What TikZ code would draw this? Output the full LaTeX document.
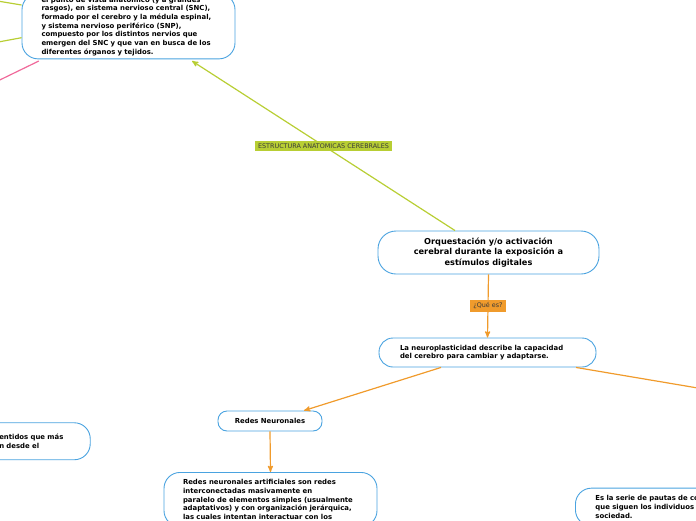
\documentclass[tikz,border=0pt]{standalone}
\usepackage{fontspec}
\setmainfont{DejaVu Sans}
\usetikzlibrary{arrows}

\definecolor{mapblue}{HTML}{4AA3E0}
\definecolor{maplime}{HTML}{B8CE34}
\definecolor{maporange}{HTML}{F09B2C}
\definecolor{mappink}{HTML}{F0699A}
\definecolor{maptext}{HTML}{3A3A3A}

\begin{document}
\begin{tikzpicture}[x=1pt,y=-1pt,>=stealth',line width=1.2pt,
  topic node/.style={draw=mapblue,line width=0.9pt,fill=white,rounded corners=18pt,
    align=center,font=\bfseries\fontsize{8.2}{10.8}\selectfont},
  idea node/.style={draw=mapblue,line width=0.9pt,fill=white,rounded corners=16pt,
    align=left,inner xsep=20pt,font=\bfseries\fontsize{6.9}{8.7}\selectfont},
  tag node/.style={fill=#1,text=maptext,inner xsep=3.5pt,inner ysep=2.5pt,
    font=\fontsize{6.4}{7}\selectfont}]

  \path[use as bounding box] (0,0) rectangle (696,520);
  \clip (0,0) rectangle (696,520);

  \node[topic node,minimum width=221pt,minimum height=43pt] (main) at (488.5,252.5)
    {Orquestación y/o activación\\cerebral durante la exposición a\\estímulos digitales};
  \node[idea node,text width=175pt,inner xsep=21pt,minimum height=29pt,rounded corners=14pt] (neuro) at (487.5,352.5)
    {La neuroplasticidad describe la capacidad\\del cerebro para cambiar y adaptarse.};
  \node[idea node,align=center,inner xsep=14pt,minimum width=104pt,minimum height=20pt,rounded corners=9pt] (redes) at (270,421)
    {Redes Neuronales};
  \node[idea node,text width=175pt,inner xsep=19pt,inner ysep=7pt,anchor=north] (artif) at (270.5,472)
    {Redes neuronales artificiales son redes\\interconectadas masivamente en\\paralelo de elementos simples (usualmente\\adaptativos) y con organización jerárquica,\\las cuales intentan interactuar con los};
  \node[idea node,text width=174pt,inner xsep=19.5pt,inner ysep=3pt,anchor=south] (anat) at (128.5,59.3)
    {el punto de vista anatómico (y a grandes\\rasgos), en sistema nervioso central (SNC),\\formado por el cerebro y la médula espinal,\\y sistema nervioso periférico (SNP),\\compuesto por los distintos nervios que\\emergen del SNC y que van en busca de los\\diferentes órganos y tejidos.};
  \node[idea node,text width=72pt,inner xsep=19pt,minimum height=37pt,anchor=north east] (senses) at (90.7,422.3)
    {entidos que más\\n desde el};
  \node[idea node,text width=175pt,inner xsep=20pt,inner ysep=7.5pt,anchor=north west] (social) at (575,487.7)
    {Es la serie de pautas de co\\que siguen los individuos\\sociedad.};

  \coordinate (right) at (760,398.5);
  \coordinate (up) at (-40,-5.2);
  \coordinate (left) at (-40,49.1);
  \coordinate (down) at (-40,99.3);

  \path[maplime,every edge/.append style={->}]
    ([xshift=-33.5pt]main.north) edge node[tag node=maplime,midway] {ESTRUCTURA ANATOMICAS CEREBRALES}
      ([xshift=63.5pt,yshift=-1.7pt]anat.south)
    ([yshift=54.3pt]anat.south west) edge (up)
    ([yshift=21.6pt]anat.south west) edge (left);
  \draw[->,draw=mappink] ([xshift=17.3pt,yshift=-1.7pt]anat.south west) -- (down);

  \path[maporange,every edge/.append style={->}]
    (main.south) edge node[tag node=maporange,midway] {¿Qué es?} (neuro.north)
    ([xshift=-46.5pt]neuro.south) edge ([xshift=34pt]redes.north)
    ([xshift=88.5pt]neuro.south) edge (right)
    (redes.south) edge (artif.north);

\end{tikzpicture}
\end{document}
